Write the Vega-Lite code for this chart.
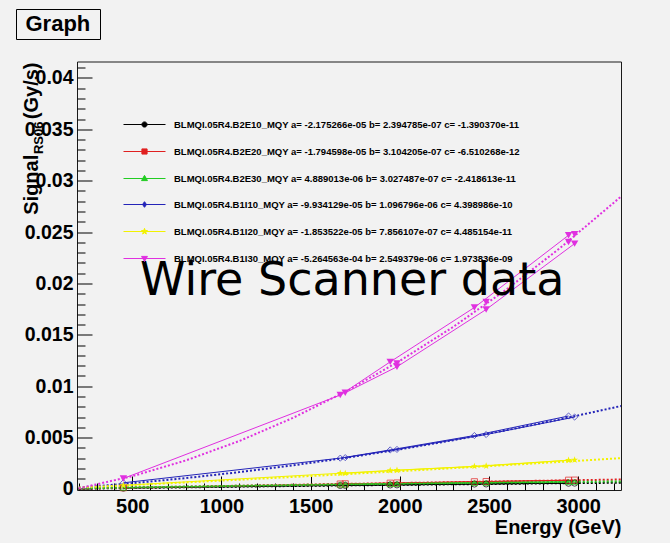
{
  "$schema": "https://vega.github.io/schema/vega-lite/v6.json",
  "width": 544,
  "height": 428.5,
  "autosize": "none",
  "padding": {"left": 77, "top": 61.5, "right": 49, "bottom": 53},
  "background": "#f2f2f2",
  "config": {
    "view": {"stroke": "#1a1a1a", "strokeWidth": 1, "fill": "#f2f2f2"},
    "font": "Liberation Sans"
  },
  "datasets": {
    "series": [
      {"s": "B2E10", "label": "BLMQI.05R4.B2E10_MQY a= -2.175266e-05 b= 2.394785e-07 c= -1.390370e-11"},
      {"s": "B2E20", "label": "BLMQI.05R4.B2E20_MQY a= -1.794598e-05 b= 3.104205e-07 c= -6.510268e-12"},
      {"s": "B2E30", "label": "BLMQI.05R4.B2E30_MQY a= 4.889013e-06 b= 3.027487e-07 c= -2.418613e-11"},
      {"s": "B1I10", "label": "BLMQI.05R4.B1I10_MQY a= -9.934129e-05 b= 1.096796e-06 c= 4.398986e-10"},
      {"s": "B1I20", "label": "BLMQI.05R4.B1I20_MQY a= -1.853522e-05 b= 7.856107e-07 c= 4.485154e-11"},
      {"s": "B1I30", "label": "BLMQI.05R4.B1I30_MQY a= -5.264563e-04 b= 2.549379e-06 c= 1.973836e-09"}
    ],
    "rows": [
      {"s": "B2E10", "kind": "fit", "run": "F", "E": 200, "v": 0.0000256},
      {"s": "B2E10", "kind": "fit", "run": "F", "E": 500, "v": 0.0000945},
      {"s": "B2E10", "kind": "fit", "run": "F", "E": 800, "v": 0.0001609},
      {"s": "B2E10", "kind": "fit", "run": "F", "E": 1100, "v": 0.0002249},
      {"s": "B2E10", "kind": "fit", "run": "F", "E": 1400, "v": 0.0002863},
      {"s": "B2E10", "kind": "fit", "run": "F", "E": 1700, "v": 0.0003452},
      {"s": "B2E10", "kind": "fit", "run": "F", "E": 2000, "v": 0.0004016},
      {"s": "B2E10", "kind": "fit", "run": "F", "E": 2300, "v": 0.0004555},
      {"s": "B2E10", "kind": "fit", "run": "F", "E": 2600, "v": 0.0005069},
      {"s": "B2E10", "kind": "fit", "run": "F", "E": 2900, "v": 0.0005558},
      {"s": "B2E10", "kind": "fit", "run": "F", "E": 3240, "v": 0.0006082},
      {"s": "B2E20", "kind": "fit", "run": "F", "E": 200, "v": 0.0000439},
      {"s": "B2E20", "kind": "fit", "run": "F", "E": 500, "v": 0.0001356},
      {"s": "B2E20", "kind": "fit", "run": "F", "E": 800, "v": 0.0002262},
      {"s": "B2E20", "kind": "fit", "run": "F", "E": 1100, "v": 0.0003156},
      {"s": "B2E20", "kind": "fit", "run": "F", "E": 1400, "v": 0.0004039},
      {"s": "B2E20", "kind": "fit", "run": "F", "E": 1700, "v": 0.000491},
      {"s": "B2E20", "kind": "fit", "run": "F", "E": 2000, "v": 0.0005769},
      {"s": "B2E20", "kind": "fit", "run": "F", "E": 2300, "v": 0.0006616},
      {"s": "B2E20", "kind": "fit", "run": "F", "E": 2600, "v": 0.0007451},
      {"s": "B2E20", "kind": "fit", "run": "F", "E": 2900, "v": 0.0008275},
      {"s": "B2E20", "kind": "fit", "run": "F", "E": 3240, "v": 0.0009195},
      {"s": "B2E30", "kind": "fit", "run": "F", "E": 200, "v": 0.0000645},
      {"s": "B2E30", "kind": "fit", "run": "F", "E": 500, "v": 0.0001502},
      {"s": "B2E30", "kind": "fit", "run": "F", "E": 800, "v": 0.0002316},
      {"s": "B2E30", "kind": "fit", "run": "F", "E": 1100, "v": 0.0003086},
      {"s": "B2E30", "kind": "fit", "run": "F", "E": 1400, "v": 0.0003813},
      {"s": "B2E30", "kind": "fit", "run": "F", "E": 1700, "v": 0.0004497},
      {"s": "B2E30", "kind": "fit", "run": "F", "E": 2000, "v": 0.0005137},
      {"s": "B2E30", "kind": "fit", "run": "F", "E": 2300, "v": 0.0005733},
      {"s": "B2E30", "kind": "fit", "run": "F", "E": 2600, "v": 0.0006285},
      {"s": "B2E30", "kind": "fit", "run": "F", "E": 2900, "v": 0.0006795},
      {"s": "B2E30", "kind": "fit", "run": "F", "E": 3240, "v": 0.0007319},
      {"s": "B1I10", "kind": "fit", "run": "F", "E": 200, "v": 0.0001376},
      {"s": "B1I10", "kind": "fit", "run": "F", "E": 500, "v": 0.000559},
      {"s": "B1I10", "kind": "fit", "run": "F", "E": 800, "v": 0.0010596},
      {"s": "B1I10", "kind": "fit", "run": "F", "E": 1100, "v": 0.0016394},
      {"s": "B1I10", "kind": "fit", "run": "F", "E": 1400, "v": 0.0022984},
      {"s": "B1I10", "kind": "fit", "run": "F", "E": 1700, "v": 0.0030365},
      {"s": "B1I10", "kind": "fit", "run": "F", "E": 2000, "v": 0.0038539},
      {"s": "B1I10", "kind": "fit", "run": "F", "E": 2300, "v": 0.0047504},
      {"s": "B1I10", "kind": "fit", "run": "F", "E": 2600, "v": 0.005726},
      {"s": "B1I10", "kind": "fit", "run": "F", "E": 2900, "v": 0.0067809},
      {"s": "B1I10", "kind": "fit", "run": "F", "E": 3240, "v": 0.0080722},
      {"s": "B1I20", "kind": "fit", "run": "F", "E": 200, "v": 0.0001404},
      {"s": "B1I20", "kind": "fit", "run": "F", "E": 500, "v": 0.0003855},
      {"s": "B1I20", "kind": "fit", "run": "F", "E": 800, "v": 0.0006387},
      {"s": "B1I20", "kind": "fit", "run": "F", "E": 1100, "v": 0.0008999},
      {"s": "B1I20", "kind": "fit", "run": "F", "E": 1400, "v": 0.0011692},
      {"s": "B1I20", "kind": "fit", "run": "F", "E": 1700, "v": 0.0014466},
      {"s": "B1I20", "kind": "fit", "run": "F", "E": 2000, "v": 0.0017321},
      {"s": "B1I20", "kind": "fit", "run": "F", "E": 2300, "v": 0.0020256},
      {"s": "B1I20", "kind": "fit", "run": "F", "E": 2600, "v": 0.0023273},
      {"s": "B1I20", "kind": "fit", "run": "F", "E": 2900, "v": 0.0026369},
      {"s": "B1I20", "kind": "fit", "run": "F", "E": 3240, "v": 0.0029977},
      {"s": "B1I30", "kind": "fit", "run": "F", "E": 200, "v": 0.0000624},
      {"s": "B1I30", "kind": "fit", "run": "F", "E": 500, "v": 0.0012417},
      {"s": "B1I30", "kind": "fit", "run": "F", "E": 800, "v": 0.0027763},
      {"s": "B1I30", "kind": "fit", "run": "F", "E": 1100, "v": 0.0046662},
      {"s": "B1I30", "kind": "fit", "run": "F", "E": 1400, "v": 0.0069114},
      {"s": "B1I30", "kind": "fit", "run": "F", "E": 1700, "v": 0.0095119},
      {"s": "B1I30", "kind": "fit", "run": "F", "E": 2000, "v": 0.0124676},
      {"s": "B1I30", "kind": "fit", "run": "F", "E": 2300, "v": 0.0157787},
      {"s": "B1I30", "kind": "fit", "run": "F", "E": 2600, "v": 0.0194451},
      {"s": "B1I30", "kind": "fit", "run": "F", "E": 2900, "v": 0.0234667},
      {"s": "B1I30", "kind": "fit", "run": "F", "E": 3240, "v": 0.0284539},

      {"s": "B2E10", "kind": "obs", "run": "A", "E": 450, "v": 0.00008},
      {"s": "B2E10", "kind": "obs", "run": "A", "E": 1666, "v": 0.00034},
      {"s": "B2E10", "kind": "obs", "run": "A", "E": 1946, "v": 0.00039},
      {"s": "B2E10", "kind": "obs", "run": "A", "E": 2418, "v": 0.00048},
      {"s": "B2E10", "kind": "obs", "run": "A", "E": 2946, "v": 0.00056},
      {"s": "B2E10", "kind": "obs", "run": "B", "E": 1694, "v": 0.00035},
      {"s": "B2E10", "kind": "obs", "run": "B", "E": 1984, "v": 0.0004},
      {"s": "B2E10", "kind": "obs", "run": "B", "E": 2484, "v": 0.00049},
      {"s": "B2E10", "kind": "obs", "run": "B", "E": 2980, "v": 0.00057},
      {"s": "B2E20", "kind": "obs", "run": "A", "E": 450, "v": 0.00012},
      {"s": "B2E20", "kind": "obs", "run": "A", "E": 1666, "v": 0.00048},
      {"s": "B2E20", "kind": "obs", "run": "A", "E": 1946, "v": 0.00056},
      {"s": "B2E20", "kind": "obs", "run": "A", "E": 2418, "v": 0.0007},
      {"s": "B2E20", "kind": "obs", "run": "A", "E": 2946, "v": 0.00085},
      {"s": "B2E20", "kind": "obs", "run": "B", "E": 1694, "v": 0.0005},
      {"s": "B2E20", "kind": "obs", "run": "B", "E": 1984, "v": 0.00058},
      {"s": "B2E20", "kind": "obs", "run": "B", "E": 2484, "v": 0.00072},
      {"s": "B2E20", "kind": "obs", "run": "B", "E": 2980, "v": 0.00086},
      {"s": "B2E30", "kind": "obs", "run": "A", "E": 450, "v": 0.00014},
      {"s": "B2E30", "kind": "obs", "run": "A", "E": 1666, "v": 0.00044},
      {"s": "B2E30", "kind": "obs", "run": "A", "E": 1946, "v": 0.0005},
      {"s": "B2E30", "kind": "obs", "run": "A", "E": 2418, "v": 0.0006},
      {"s": "B2E30", "kind": "obs", "run": "A", "E": 2946, "v": 0.00069},
      {"s": "B2E30", "kind": "obs", "run": "B", "E": 1694, "v": 0.00045},
      {"s": "B2E30", "kind": "obs", "run": "B", "E": 1984, "v": 0.00051},
      {"s": "B2E30", "kind": "obs", "run": "B", "E": 2484, "v": 0.00061},
      {"s": "B2E30", "kind": "obs", "run": "B", "E": 2980, "v": 0.0007},
      {"s": "B1I10", "kind": "obs", "run": "A", "E": 450, "v": 0.0006},
      {"s": "B1I10", "kind": "obs", "run": "A", "E": 1666, "v": 0.003},
      {"s": "B1I10", "kind": "obs", "run": "A", "E": 1946, "v": 0.0038},
      {"s": "B1I10", "kind": "obs", "run": "A", "E": 2418, "v": 0.0052},
      {"s": "B1I10", "kind": "obs", "run": "A", "E": 2946, "v": 0.0071},
      {"s": "B1I10", "kind": "obs", "run": "B", "E": 1694, "v": 0.00305},
      {"s": "B1I10", "kind": "obs", "run": "B", "E": 1984, "v": 0.00385},
      {"s": "B1I10", "kind": "obs", "run": "B", "E": 2484, "v": 0.0053},
      {"s": "B1I10", "kind": "obs", "run": "B", "E": 2980, "v": 0.007},
      {"s": "B1I20", "kind": "obs", "run": "A", "E": 450, "v": 0.00035},
      {"s": "B1I20", "kind": "obs", "run": "A", "E": 1666, "v": 0.00153},
      {"s": "B1I20", "kind": "obs", "run": "A", "E": 1946, "v": 0.0018},
      {"s": "B1I20", "kind": "obs", "run": "A", "E": 2418, "v": 0.0022},
      {"s": "B1I20", "kind": "obs", "run": "A", "E": 2946, "v": 0.0028},
      {"s": "B1I20", "kind": "obs", "run": "B", "E": 1694, "v": 0.00152},
      {"s": "B1I20", "kind": "obs", "run": "B", "E": 1984, "v": 0.00182},
      {"s": "B1I20", "kind": "obs", "run": "B", "E": 2484, "v": 0.00224},
      {"s": "B1I20", "kind": "obs", "run": "B", "E": 2980, "v": 0.00283},
      {"s": "B1I30", "kind": "obs", "run": "A", "E": 450, "v": 0.00102},
      {"s": "B1I30", "kind": "obs", "run": "A", "E": 1666, "v": 0.00914},
      {"s": "B1I30", "kind": "obs", "run": "A", "E": 1946, "v": 0.01237},
      {"s": "B1I30", "kind": "obs", "run": "A", "E": 2418, "v": 0.01766},
      {"s": "B1I30", "kind": "obs", "run": "A", "E": 2946, "v": 0.02469},
      {"s": "B1I30", "kind": "obs", "run": "B", "E": 1694, "v": 0.00936},
      {"s": "B1I30", "kind": "obs", "run": "B", "E": 1984, "v": 0.01189},
      {"s": "B1I30", "kind": "obs", "run": "B", "E": 2484, "v": 0.01747},
      {"s": "B1I30", "kind": "obs", "run": "B", "E": 2980, "v": 0.02388},
      {"s": "B1I30", "kind": "obs", "run": "C", "E": 1984, "v": 0.01222},
      {"s": "B1I30", "kind": "obs", "run": "C", "E": 2484, "v": 0.0182},
      {"s": "B1I30", "kind": "obs", "run": "C", "E": 2980, "v": 0.02479},
      {"s": "B1I30", "kind": "obs", "run": "C", "E": 2946, "v": 0.02404}
    ]
  },
  "data": {"name": "rows"},
  "transform": [
    {"lookup": "s", "from": {"data": {"name": "series"}, "key": "s", "fields": ["label"]}}
  ],
  "resolve": {"axis": {"x": "independent", "y": "independent"}},
  "layer": [
    {
      "transform": [{"filter": "datum.kind === 'obs' && datum.run !== 'C'"}],
      "mark": {"type": "line", "strokeWidth": 1},
      "encoding": {
        "x": {
          "field": "E", "type": "quantitative",
          "scale": {"domain": [190, 3240], "nice": false, "zero": false},
          "axis": {
            "orient": "bottom",
            "values": [200, 300, 400, 500, 600, 700, 800, 900, 1000, 1100, 1200, 1300, 1400, 1500, 1600, 1700, 1800, 1900, 2000, 2100, 2200, 2300, 2400, 2500, 2600, 2700, 2800, 2900, 3000, 3100, 3200],
            "labels": false,
            "domain": false,
            "grid": false,
            "title": null,
            "tickColor": "#000",
            "tickSize": {"condition": {"test": "datum.value % 500 === 0", "value": -14}, "value": -7}
          }
        },
        "y": {
          "field": "v", "type": "quantitative",
          "scale": {"domain": [-0.0001, 0.0416], "nice": false, "zero": false},
          "axis": {
            "orient": "left",
            "values": [0, 0.001, 0.002, 0.003, 0.004, 0.005, 0.006, 0.007, 0.008, 0.009, 0.01, 0.011, 0.012, 0.013, 0.014, 0.015, 0.016, 0.017, 0.018, 0.019, 0.02, 0.021, 0.022, 0.023, 0.024, 0.025, 0.026, 0.027, 0.028, 0.029, 0.03, 0.031, 0.032, 0.033, 0.034, 0.035, 0.036, 0.037, 0.038, 0.039, 0.04, 0.041],
            "labels": false,
            "domain": false,
            "grid": false,
            "tickColor": "#000",
            "tickSize": {"condition": {"test": "round(datum.value * 1000) % 5 === 0", "value": -15}, "value": -8},
            "title": "RS06",
            "titleFont": "Liberation Sans",
            "titleFontWeight": "bold",
            "titleFontSize": 13,
            "titleColor": "#000",
            "titleAngle": -90,
            "titleX": -35,
            "titleY": 59.5,
            "titleAlign": "right",
            "titleBaseline": "alphabetic"
          }
        },
        "detail": {"field": "run"},
        "color": {
          "field": "label", "type": "nominal",
          "scale": {
            "domain": [
              "BLMQI.05R4.B2E10_MQY a= -2.175266e-05 b= 2.394785e-07 c= -1.390370e-11",
              "BLMQI.05R4.B2E20_MQY a= -1.794598e-05 b= 3.104205e-07 c= -6.510268e-12",
              "BLMQI.05R4.B2E30_MQY a= 4.889013e-06 b= 3.027487e-07 c= -2.418613e-11",
              "BLMQI.05R4.B1I10_MQY a= -9.934129e-05 b= 1.096796e-06 c= 4.398986e-10",
              "BLMQI.05R4.B1I20_MQY a= -1.853522e-05 b= 7.856107e-07 c= 4.485154e-11",
              "BLMQI.05R4.B1I30_MQY a= -5.264563e-04 b= 2.549379e-06 c= 1.973836e-09"
            ],
            "range": ["#000000", "#e02020", "#22cc22", "#2424b8", "#f2f200", "#e030e0"]
          },
          "legend": {
            "orient": "none",
            "legendX": 60,
            "legendY": 55.5,
            "title": null,
            "padding": 0,
            "rowPadding": 14,
            "symbolSize": 196,
            "symbolStrokeWidth": 1,
            "symbolDash": [],
            "labelFont": "Liberation Sans",
            "labelFontWeight": "bold",
            "labelFontSize": 9.5,
            "labelColor": "#000",
            "labelLimit": 1000,
            "labelOffset": 22,
            "encode": {
              "symbols": {
                "update": {
                  "shape": {"signal": "indexof(datum.value,'B2E10')>=0 ? 'M-3,0H-0.37M0.37,0H3M-0.37,0A0.37,0.37,0,1,0,0.37,0A0.37,0.37,0,1,0,-0.37,0' : indexof(datum.value,'B2E20')>=0 ? 'M-3,0H-0.37M0.37,0H3M-0.37,-0.37H0.37V0.37H-0.37Z' : indexof(datum.value,'B2E30')>=0 ? 'M-3,0H3M0,-0.45L0.42,0.3L-0.42,0.3Z' : indexof(datum.value,'B1I10')>=0 ? 'M-3,0H3M0,-0.4L0.28,0L0,0.4L-0.28,0Z' : indexof(datum.value,'B1I20')>=0 ? 'M-3,0H3M0,-0.45L0.106,-0.146L0.428,-0.139L0.171,0.056L0.265,0.364L0,0.18L-0.265,0.364L-0.171,0.056L-0.428,-0.139L-0.106,-0.146Z' : 'M-3,0H3M0,0.42L0.42,-0.3L-0.42,-0.3Z'"},
                  "fill": {"signal": "indexof(datum.value,'B1I20')>=0 || indexof(datum.value,'B1I30')>=0 ? scale('color', datum.value) : 'transparent'"},
                  "stroke": {"signal": "scale('color', datum.value)"},
                  "opacity": {"value": 1}
                }
              }
            }
          }
        }
      }
    },
    {
      "transform": [{"filter": "datum.kind === 'fit'"}],
      "mark": {"type": "line", "strokeWidth": 2, "strokeDash": [2, 2], "clip": true},
      "encoding": {
        "x": {
          "field": "E", "type": "quantitative",
          "axis": {
            "orient": "bottom",
            "values": [500, 1000, 1500, 2000, 2500, 3000],
            "format": "d",
            "ticks": false,
            "domain": false,
            "grid": false,
            "labelFont": "Liberation Sans",
            "labelFontWeight": "bold",
            "labelFontSize": 20,
            "labelColor": "#000",
            "labelPadding": 6,
            "labelFlush": false,
            "labelOverlap": false,
            "title": "Energy (GeV)",
            "titleFont": "Liberation Sans",
            "titleFontWeight": "bold",
            "titleFontSize": 20,
            "titleColor": "#000",
            "titleX": 544,
            "titleY": 43,
            "titleAlign": "right",
            "titleBaseline": "alphabetic"
          }
        },
        "y": {
          "field": "v", "type": "quantitative",
          "axis": {
            "orient": "left",
            "values": [0, 0.005, 0.01, 0.015, 0.02, 0.025, 0.03, 0.035, 0.04],
            "format": "~g",
            "ticks": false,
            "domain": false,
            "grid": false,
            "labelFont": "Liberation Sans",
            "labelFontWeight": "bold",
            "labelFontSize": 19.5,
            "labelColor": "#000",
            "labelPadding": 4,
            "labelFlush": false,
            "labelOverlap": false,
            "title": "Signal\u2003\u2002\u00a0(Gy/s)",
            "titleFont": "Liberation Sans",
            "titleFontWeight": "bold",
            "titleFontSize": 20,
            "titleColor": "#000",
            "titleAngle": -90,
            "titleX": -40,
            "titleY": 0.5,
            "titleAlign": "right",
            "titleBaseline": "alphabetic"
          }
        },
        "color": {"field": "label", "type": "nominal"}
      }
    },
    {
      "transform": [{"filter": "datum.kind === 'obs' && indexof(['B2E10','B2E20','B2E30','B1I10'], datum.s) >= 0"}],
      "mark": {"type": "point", "filled": false, "strokeWidth": 1, "size": 38},
      "encoding": {
        "x": {"field": "E", "type": "quantitative", "axis": null},
        "y": {"field": "v", "type": "quantitative", "axis": null},
        "color": {"field": "label", "type": "nominal"},
        "shape": {
          "field": "s", "type": "nominal",
          "scale": {
            "domain": ["B2E10", "B2E20", "B2E30", "B1I10", "B1I20", "B1I30"],
            "range": ["circle", "square", "triangle-up", "diamond", "M0,-1L0.235,-0.324L0.951,-0.309L0.38,0.124L0.588,0.809L0,0.4L-0.588,0.809L-0.38,0.124L-0.951,-0.309L-0.235,-0.324Z", "triangle-down"]
          },
          "legend": null
        }
      }
    },
    {
      "transform": [{"filter": "datum.kind === 'obs' && indexof(['B1I20','B1I30'], datum.s) >= 0"}],
      "mark": {"type": "point", "filled": true, "size": 55, "opacity": 1},
      "encoding": {
        "x": {"field": "E", "type": "quantitative", "axis": null},
        "y": {"field": "v", "type": "quantitative", "axis": null},
        "color": {"field": "label", "type": "nominal"},
        "shape": {"field": "s", "type": "nominal", "legend": null}
      }
    },
    {
      "data": {"values": [{"note": "Wire Scanner data", "E": 543, "v": 0.018877, "panel": "Graph"}]},
      "mark": {"type": "text", "font": "DejaVu Sans", "fontSize": 46, "align": "left", "baseline": "alphabetic", "color": "#000"},
      "encoding": {
        "x": {"field": "E", "type": "quantitative", "axis": null},
        "y": {"field": "v", "type": "quantitative", "axis": null},
        "text": {"field": "note"},
        "opacity": {
          "field": "panel", "type": "ordinal",
          "scale": {"range": [1]},
          "legend": {
            "orient": "none",
            "legendX": -61,
            "legendY": -52.5,
            "title": null,
            "padding": 4,
            "strokeColor": "#000",
            "fillColor": "#f2f2f2",
            "symbolSize": 0,
            "symbolOpacity": 0,
            "symbolStrokeWidth": 0,
            "labelOffset": -16.5,
            "labelFont": "Liberation Sans",
            "labelFontWeight": "bold",
            "labelFontSize": 22,
            "labelColor": "#000",
            "labelExpr": "'\u2005' + datum.label + '\u2005\u200b'"
          }
        }
      }
    }
  ]
}
